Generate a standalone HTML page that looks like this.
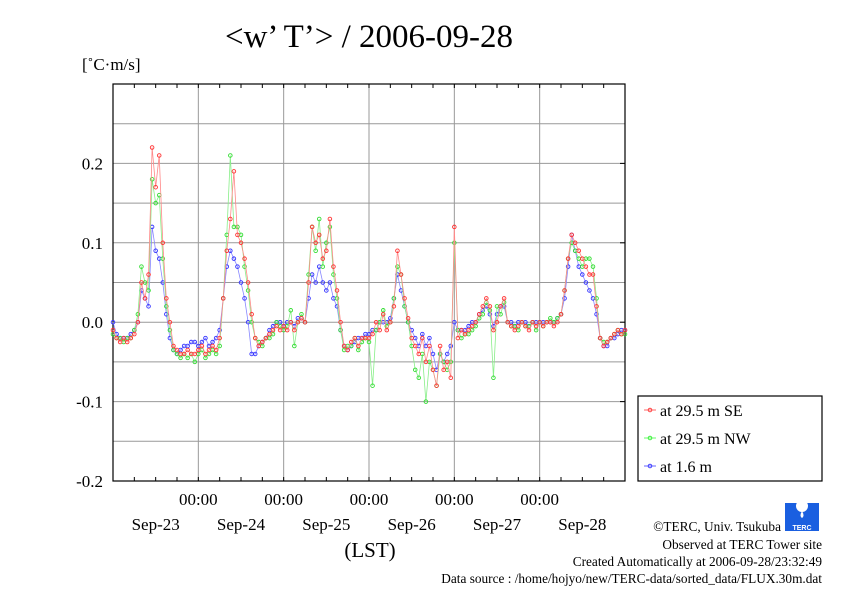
<!DOCTYPE html>
<html><head><meta charset="utf-8"><style>
body{margin:0;background:#fff;}
svg{display:block;font-family:"Liberation Serif",serif;}
</style></head><body>
<svg id="chart" width="842" height="595" viewBox="0 0 842 595" xmlns="http://www.w3.org/2000/svg">
<rect width="842" height="595" fill="#fff"/>
<text x="369" y="47" font-size="33" text-anchor="middle">&lt;w’ T’&gt; / 2006-09-28</text>
<text x="82" y="70" font-size="17">[˚C·m/s]</text>
<g id="grid"></g>
<g id="axes"></g>
<g id="series"></g>
<text x="370" y="557" font-size="21" text-anchor="middle">(LST)</text>
<g>
<rect x="638" y="396" width="184" height="85" fill="#fff" stroke="#000" stroke-width="1.2"/>
<g><line x1="644" y1="410" x2="656" y2="410" stroke="#f66"/><circle cx="650" cy="410" r="1.8" fill="none" stroke="#f44"/><text x="660" y="416" font-size="16">at 29.5 m SE</text></g>
<g><line x1="644" y1="438" x2="656" y2="438" stroke="#6f6"/><circle cx="650" cy="438" r="1.8" fill="none" stroke="#4e4"/><text x="660" y="444" font-size="16">at 29.5 m NW</text></g>
<g><line x1="644" y1="466" x2="656" y2="466" stroke="#66f"/><circle cx="650" cy="466" r="1.8" fill="none" stroke="#44f"/><text x="660" y="472" font-size="16">at 1.6 m</text></g>
</g>
<g>
<rect x="785" y="503" width="34" height="28" fill="#1a5fe0"/>
<circle cx="802" cy="506" r="6" fill="#fff"/>
<path d="M802 511 q-3 5 0 7 q3 -2 0 -7z" fill="#fff"/>
<text x="802" y="530" font-size="7" fill="#fff" text-anchor="middle" font-family="Liberation Sans,sans-serif" font-weight="bold">TERC</text>
</g>
<g font-size="13.3" text-anchor="end">
<text x="781" y="531">©TERC, Univ. Tsukuba</text>
<text x="822" y="549">Observed at TERC Tower site</text>
<text x="822" y="566">Created Automatically at 2006-09-28/23:32:49</text>
<text x="822" y="583">Data source : /home/hojyo/new/TERC-data/sorted_data/FLUX.30m.dat</text>
</g>
</svg>
<script>
const yTicks=[0.2,0.1,0.0,-0.1,-0.2];
const yTickLabels=["0.2","0.1","0.0","-0.1","-0.2"];
const dayLabels=["Sep-23","Sep-24","Sep-25","Sep-26","Sep-27","Sep-28"];
const seriesSE=[-0.01,-0.02,-0.025,-0.02,-0.025,-0.02,-0.015,0.0,0.05,0.03,0.06,0.22,0.17,0.21,0.1,0.03,0.0,-0.03,-0.035,-0.04,-0.04,-0.035,-0.04,-0.04,
-0.035,-0.03,-0.04,-0.035,-0.03,-0.035,-0.02,0.03,0.09,0.13,0.19,0.11,0.1,0.08,0.05,0.01,-0.02,-0.03,-0.025,-0.02,-0.015,-0.01,-0.005,-0.01,
-0.005,-0.01,0.0,-0.01,0.0,0.005,0.0,0.05,0.12,0.1,0.11,0.08,0.09,0.13,0.07,0.04,0.0,-0.03,-0.035,-0.025,-0.02,-0.03,-0.02,-0.02,
-0.02,-0.015,0.0,-0.01,0.01,-0.01,0.0,0.02,0.09,0.06,0.03,0.005,-0.02,-0.03,-0.04,-0.02,-0.05,-0.03,-0.06,-0.08,-0.03,-0.06,-0.05,-0.07,
0.12,-0.02,-0.01,-0.015,-0.01,-0.005,0.0,0.01,0.02,0.03,0.02,-0.01,0.0,0.02,0.03,0.0,-0.005,-0.01,-0.005,0.0,-0.005,-0.01,0.0,-0.005,
0.0,-0.005,0.0,0.0,-0.005,0.0,0.01,0.04,0.08,0.11,0.1,0.09,0.08,0.07,0.06,0.06,0.02,-0.02,-0.03,-0.025,-0.02,-0.015,-0.01,-0.015,-0.01];
const seriesNW=[-0.015,-0.02,-0.02,-0.025,-0.02,-0.02,-0.01,0.01,0.07,0.05,0.04,0.18,0.15,0.16,0.08,0.02,-0.01,-0.035,-0.04,-0.045,-0.04,-0.045,-0.04,-0.05,
-0.04,-0.035,-0.045,-0.04,-0.035,-0.04,-0.03,0.03,0.11,0.21,0.12,0.12,0.11,0.07,0.04,0.0,-0.02,-0.025,-0.03,-0.02,-0.02,-0.015,0.0,-0.005,
-0.01,-0.005,0.015,-0.03,0.0,0.01,0.0,0.06,0.12,0.09,0.13,0.07,0.1,0.12,0.06,0.03,-0.01,-0.035,-0.03,-0.03,-0.02,-0.035,-0.025,-0.02,
-0.025,-0.08,-0.01,0.0,0.015,-0.005,0.0,0.03,0.07,0.06,0.02,0.0,-0.03,-0.06,-0.07,-0.04,-0.1,-0.05,-0.06,-0.08,-0.04,-0.05,-0.06,-0.05,
0.1,-0.01,-0.02,-0.015,-0.015,-0.01,-0.005,0.005,0.01,0.025,0.015,-0.07,0.02,0.01,0.025,0.0,-0.005,-0.005,-0.01,0.0,-0.005,-0.005,0.0,-0.01,
0.0,-0.005,0.0,0.005,0.0,0.005,0.01,0.04,0.08,0.1,0.09,0.08,0.07,0.08,0.08,0.07,0.03,-0.02,-0.025,-0.025,-0.02,-0.015,-0.01,-0.015,-0.015];
const series16=[0.0,-0.015,-0.02,-0.02,-0.02,-0.015,-0.01,0.0,0.04,0.03,0.02,0.12,0.09,0.08,0.05,0.01,-0.02,-0.035,-0.04,-0.035,-0.03,-0.03,-0.025,-0.025,
-0.03,-0.025,-0.02,-0.03,-0.025,-0.02,-0.01,0.03,0.07,0.09,0.08,0.07,0.05,0.03,0.0,-0.04,-0.04,-0.03,-0.025,-0.02,-0.01,-0.005,0.0,0.0,
-0.005,0.0,0.0,-0.005,0.005,0.005,0.0,0.03,0.06,0.05,0.07,0.05,0.04,0.05,0.03,0.02,-0.01,-0.03,-0.035,-0.03,-0.025,-0.02,-0.02,-0.015,
-0.015,-0.01,-0.01,0.0,0.0,0.0,0.005,0.03,0.06,0.04,0.02,0.0,-0.01,-0.02,-0.03,-0.015,-0.03,-0.02,-0.04,-0.06,-0.04,-0.05,-0.04,-0.03,
0.0,-0.01,-0.01,-0.01,-0.005,0.0,0.0,0.01,0.015,0.02,0.01,-0.005,0.01,0.02,0.02,0.0,0.0,-0.005,0.0,0.0,0.0,-0.005,0.0,0.0,
0.0,0.0,0.0,0.0,0.0,0.005,0.01,0.03,0.07,0.11,0.09,0.07,0.06,0.05,0.04,0.03,0.01,-0.02,-0.03,-0.03,-0.02,-0.02,-0.015,-0.01,-0.01];
const X0=113,X1=625,Y0=84,Y1=481,HOURS=144;
const xScale=h=>X0+(X1-X0)*h/HOURS;
const yScale=v=>Y1-(v-(-0.2))/(0.5)*(Y1-Y0);
const NS="http://www.w3.org/2000/svg";
function mk(tag,attrs,parent){const e=document.createElementNS(NS,tag);for(const k in attrs)e.setAttribute(k,attrs[k]);parent.appendChild(e);return e;}
const grid=document.getElementById('grid'),axes=document.getElementById('axes'),ser=document.getElementById('series');
for(let v=-0.15;v<0.3;v+=0.05){const y=yScale(v);const l=mk('line',{x1:X0,x2:X1,y1:y,y2:y,stroke:'#999','stroke-width':1},grid);

}
for(let d=1;d<6;d++){const x=xScale(d*24);const l=mk('line',{x1:x,x2:x,y1:Y0,y2:Y1,stroke:'#999','stroke-width':1},grid);


const t=mk('text',{x:x,y:505,'font-size':17,'text-anchor':'middle'},axes);t.textContent='00:00';

}
for(let h=6;h<HOURS;h+=6){const x=xScale(h);mk('line',{x1:x,x2:x,y1:Y0,y2:Y0+4,stroke:'#000'},axes);mk('line',{x1:x,x2:x,y1:Y1,y2:Y1-4,stroke:'#000'},axes);}
dayLabels.forEach((s,i)=>{const t=mk('text',{x:xScale(i*24+12),y:530,'font-size':17,'text-anchor':'middle'},axes);t.textContent=s;

});
yTicks.forEach((v,i)=>{const y=yScale(v);const t=mk('text',{x:103,y:y+6,'font-size':17,'text-anchor':'end'},axes);t.textContent=yTickLabels[i];


mk('line',{x1:X1-5,x2:X1,y1:y,y2:y,stroke:'#000'},axes);});
const box=mk('rect',{x:X0,y:Y0,width:X1-X0,height:Y1-Y0,fill:'none',stroke:'#000','stroke-width':1.2},axes);


function draw(data,line,mark,name){const pts=data.map((v,i)=>[xScale(i),yScale(v)]);
const p=mk('polyline',{points:pts.map(p=>p.join(',')).join(' '),fill:'none',stroke:line,'stroke-width':0.8},ser);


pts.forEach(q=>{const c=mk('circle',{cx:q[0],cy:q[1],r:1.8,fill:'none',stroke:mark,'stroke-width':0.9},ser);

});}
draw(series16,'#88f','#33f','series-1-6m');
draw(seriesNW,'#8e8','#3d3','series-nw');
draw(seriesSE,'#f88','#f33','series-se');
</script>
</body></html>
